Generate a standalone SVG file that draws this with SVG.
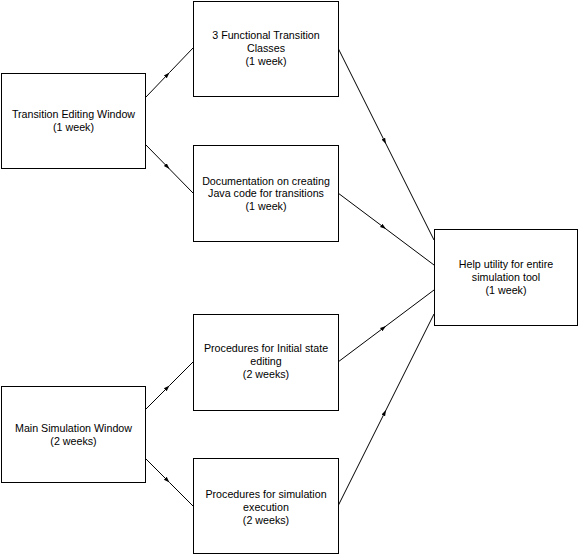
<svg xmlns="http://www.w3.org/2000/svg" width="584" height="555" viewBox="0 0 584 555">
<defs>
<style>
.box{fill:#ffffff;stroke:#000000;stroke-width:1}
.lbl{font-family:"Liberation Sans",Arial,sans-serif;font-size:10.7px;fill:#000000;text-anchor:middle}
.edge{fill:none;stroke:#000000;stroke-width:1;marker-mid:url(#arr)}
</style>
<marker id="arr" viewBox="0 0 6 6" refX="6" refY="3" markerWidth="6" markerHeight="6" markerUnits="userSpaceOnUse" orient="auto">
<path d="M0,1 L6,3 L0,5 z" fill="#000000"/>
</marker>
</defs>
<rect x="0" y="0" width="584" height="555" fill="#ffffff"/>
<g id="connectors">
<polyline class="edge" points="146,97 169.5,72.5 193,48"/>
<polyline class="edge" points="146,145 169.5,169 193,193"/>
<polyline class="edge" points="338,48 386,144 434,240"/>
<polyline class="edge" points="338,193 386,229 434,265"/>
<polyline class="edge" points="338,362 386,326 434,290"/>
<polyline class="edge" points="338,506 386,410 434,314"/>
<polyline class="edge" points="146,409 169.5,385.5 193,362"/>
<polyline class="edge" points="146,459 169.5,482.5 193,506"/>
</g>
<g id="tew">
<rect class="box" x="1.5" y="73.5" width="144" height="95"/>
<text class="lbl" x="73.5" y="118">Transition Editing Window</text>
<text class="lbl" x="73.5" y="131">(1 week)</text>
</g>
<g id="ftc">
<rect class="box" x="193.5" y="1.5" width="145" height="95"/>
<text class="lbl" x="266" y="39">3 Functional Transition</text>
<text class="lbl" x="266" y="52">Classes</text>
<text class="lbl" x="266" y="65">(1 week)</text>
</g>
<g id="doc">
<rect class="box" x="193.5" y="145.5" width="145" height="96"/>
<text class="lbl" x="266" y="185">Documentation on creating</text>
<text class="lbl" x="266" y="197">Java code for transitions</text>
<text class="lbl" x="266" y="210">(1 week)</text>
</g>
<g id="help">
<rect class="box" x="434.5" y="229.5" width="143" height="96"/>
<text class="lbl" x="506" y="268">Help utility for entire</text>
<text class="lbl" x="506" y="281">simulation tool</text>
<text class="lbl" x="506" y="294">(1 week)</text>
</g>
<g id="msw">
<rect class="box" x="1.5" y="386.5" width="144" height="96"/>
<text class="lbl" x="73.5" y="432">Main Simulation Window</text>
<text class="lbl" x="73.5" y="445">(2 weeks)</text>
</g>
<g id="pi">
<rect class="box" x="193.5" y="314.5" width="145" height="96"/>
<text class="lbl" x="266" y="352">Procedures for Initial state</text>
<text class="lbl" x="266" y="365">editing</text>
<text class="lbl" x="266" y="378">(2 weeks)</text>
</g>
<g id="pe">
<rect class="box" x="193.5" y="458.5" width="145" height="95"/>
<text class="lbl" x="266" y="498">Procedures for simulation</text>
<text class="lbl" x="266" y="511">execution</text>
<text class="lbl" x="266" y="524">(2 weeks)</text>
</g>
</svg>
